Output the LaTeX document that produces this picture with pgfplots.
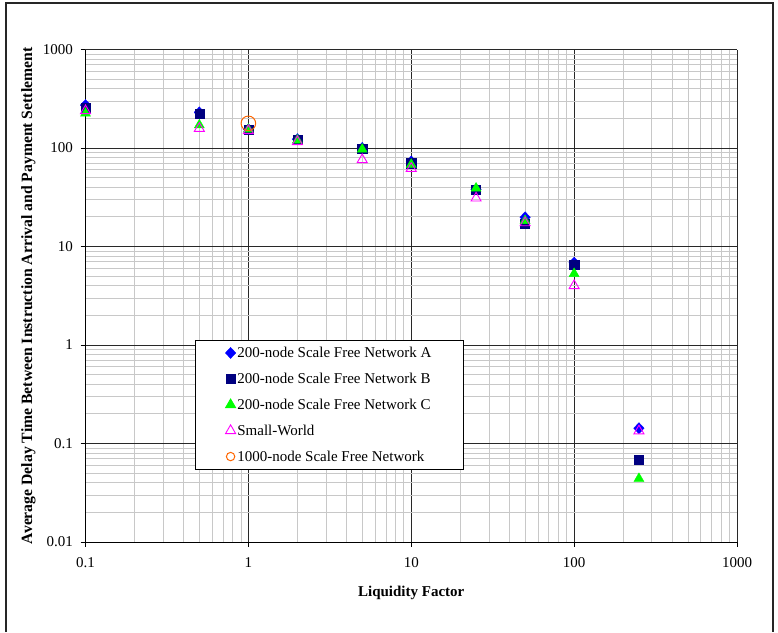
\documentclass[border=0pt]{standalone}
\usepackage{fontspec}
\setmainfont{Liberation Serif}
\usepackage{pgfplots}
\pgfplotsset{compat=1.18}
\definecolor{serA}{RGB}{0,0,255}
\definecolor{serB}{RGB}{0,0,128}
\definecolor{serC}{RGB}{0,255,0}
\definecolor{serSW}{RGB}{255,0,255}
\definecolor{serO}{RGB}{255,102,0}
\definecolor{majgrid}{RGB}{40,40,40}
\definecolor{mingrid}{RGB}{200,200,200}
\begin{document}
\begin{tikzpicture}[x=1pt,y=1pt]
\useasboundingbox (0,0) rectangle (778,632);
\draw[line width=1.2pt,black!85] (6,0) -- (6,629) -- (773,629) -- (773,0);
\begin{axis}[
  at={(85.5pt,90pt)}, anchor=south west,
  scale only axis, width=651.5pt, height=492.5pt,
  xmode=log, ymode=log,
  xmin=0.1, xmax=1000, ymin=0.01, ymax=1000,
  log basis x=10, log basis y=10,
  xtick={0.1,1,10,100,1000}, ytick={0.01,0.1,1,10,100,1000},
  minor xtick={0.2,0.3,0.4,0.5,0.6,0.7,0.8,0.9,2,3,4,5,6,7,8,9,20,30,40,50,60,70,80,90,200,300,400,500,600,700,800,900},
  minor ytick={0.02,0.03,0.04,0.05,0.06,0.07,0.08,0.09,0.2,0.3,0.4,0.5,0.6,0.7,0.8,0.9,2,3,4,5,6,7,8,9,20,30,40,50,60,70,80,90,200,300,400,500,600,700,800,900},
  xticklabels={0.1,1,10,100,1000},
  yticklabels={0.01,0.1,1,10,100,1000},
  axis lines=left, axis line style={-, black, line width=0.9pt},
  tick align=outside, major tick length=5pt, minor tick length=0pt,
  tick style={black, line width=0.8pt},
  grid=both,
  major grid style={majgrid, line width=0.8pt},
  minor grid style={mingrid, line width=0.8pt},
  /pgf/number format/assume math mode=true,
  tick label style={font=\fontsize{15}{18}\selectfont},
  xticklabel style={yshift=-7pt},
  yticklabel style={xshift=-4pt},
  label style={font=\fontsize{15}{18}\selectfont\bfseries},
  xlabel={Liquidity Factor},
  ylabel={Average Delay Time Between Instruction Arrival and Payment Settlement},
  xlabel style={at={(axis description cs:0.5,0)}, anchor=center, yshift=-51pt},
  ylabel style={at={(axis description cs:-0.0875,0.5)}, anchor=center, font=\fontsize{15.7}{18}\selectfont\bfseries},
  legend style={at={(axis description cs:0.168,0.410)}, anchor=north west,
    draw=black, line width=0.8pt, inner xsep=30pt, inner ysep=5pt, row sep=11pt,
    font=\fontsize{15}{18}\selectfont,
    nodes={inner sep=1.5pt}},
  legend cell align=left,
  clip=false,
]
\addplot[only marks, mark=diamond*, color=serA, mark size=5.6pt, mark options={xscale=1.25, line width=0.3pt}]
coordinates {(0.1,273) (0.5,230) (1,155) (2,123) (5,100) (10,73) (25,38) (50,19.8) (100,6.85) (250,0.143)};
\addlegendentry{200-node Scale Free Network A}
\addplot[only marks, mark=square*, color=serB, mark size=4.6pt]
coordinates {(0.1,253) (0.5,225) (1,152) (2,122) (5,98) (10,70) (25,38) (50,17.2) (100,6.5) (250,0.068)};
\addlegendentry{200-node Scale Free Network B}
\addplot[only marks, mark=triangle*, color=serC, mark size=5.8pt]
coordinates {(0.1,225) (0.5,171) (1,155) (2,120) (5,97) (10,68) (25,39) (50,18.3) (100,5.3) (250,0.044)};
\addlegendentry{200-node Scale Free Network C}
\addplot[only marks, mark=triangle, color=serSW, mark size=5.8pt, mark options={line width=0.9pt}]
coordinates {(0.1,239) (0.5,158) (1,150) (2,116) (5,76) (10,62) (25,31) (50,17.4) (100,4.0) (250,0.134)};
\addlegendentry{Small-World}
\addplot[only marks, mark=o, color=serO, mark size=7.3pt, mark options={line width=1pt},
  legend image code/.code={\draw[serO, line width=1pt, mark=o, mark size=4.2pt] plot coordinates {(0.3cm,0cm)};}]
coordinates {(1,178)};
\addlegendentry{1000-node Scale Free Network}
\end{axis}
\end{tikzpicture}
\end{document}
